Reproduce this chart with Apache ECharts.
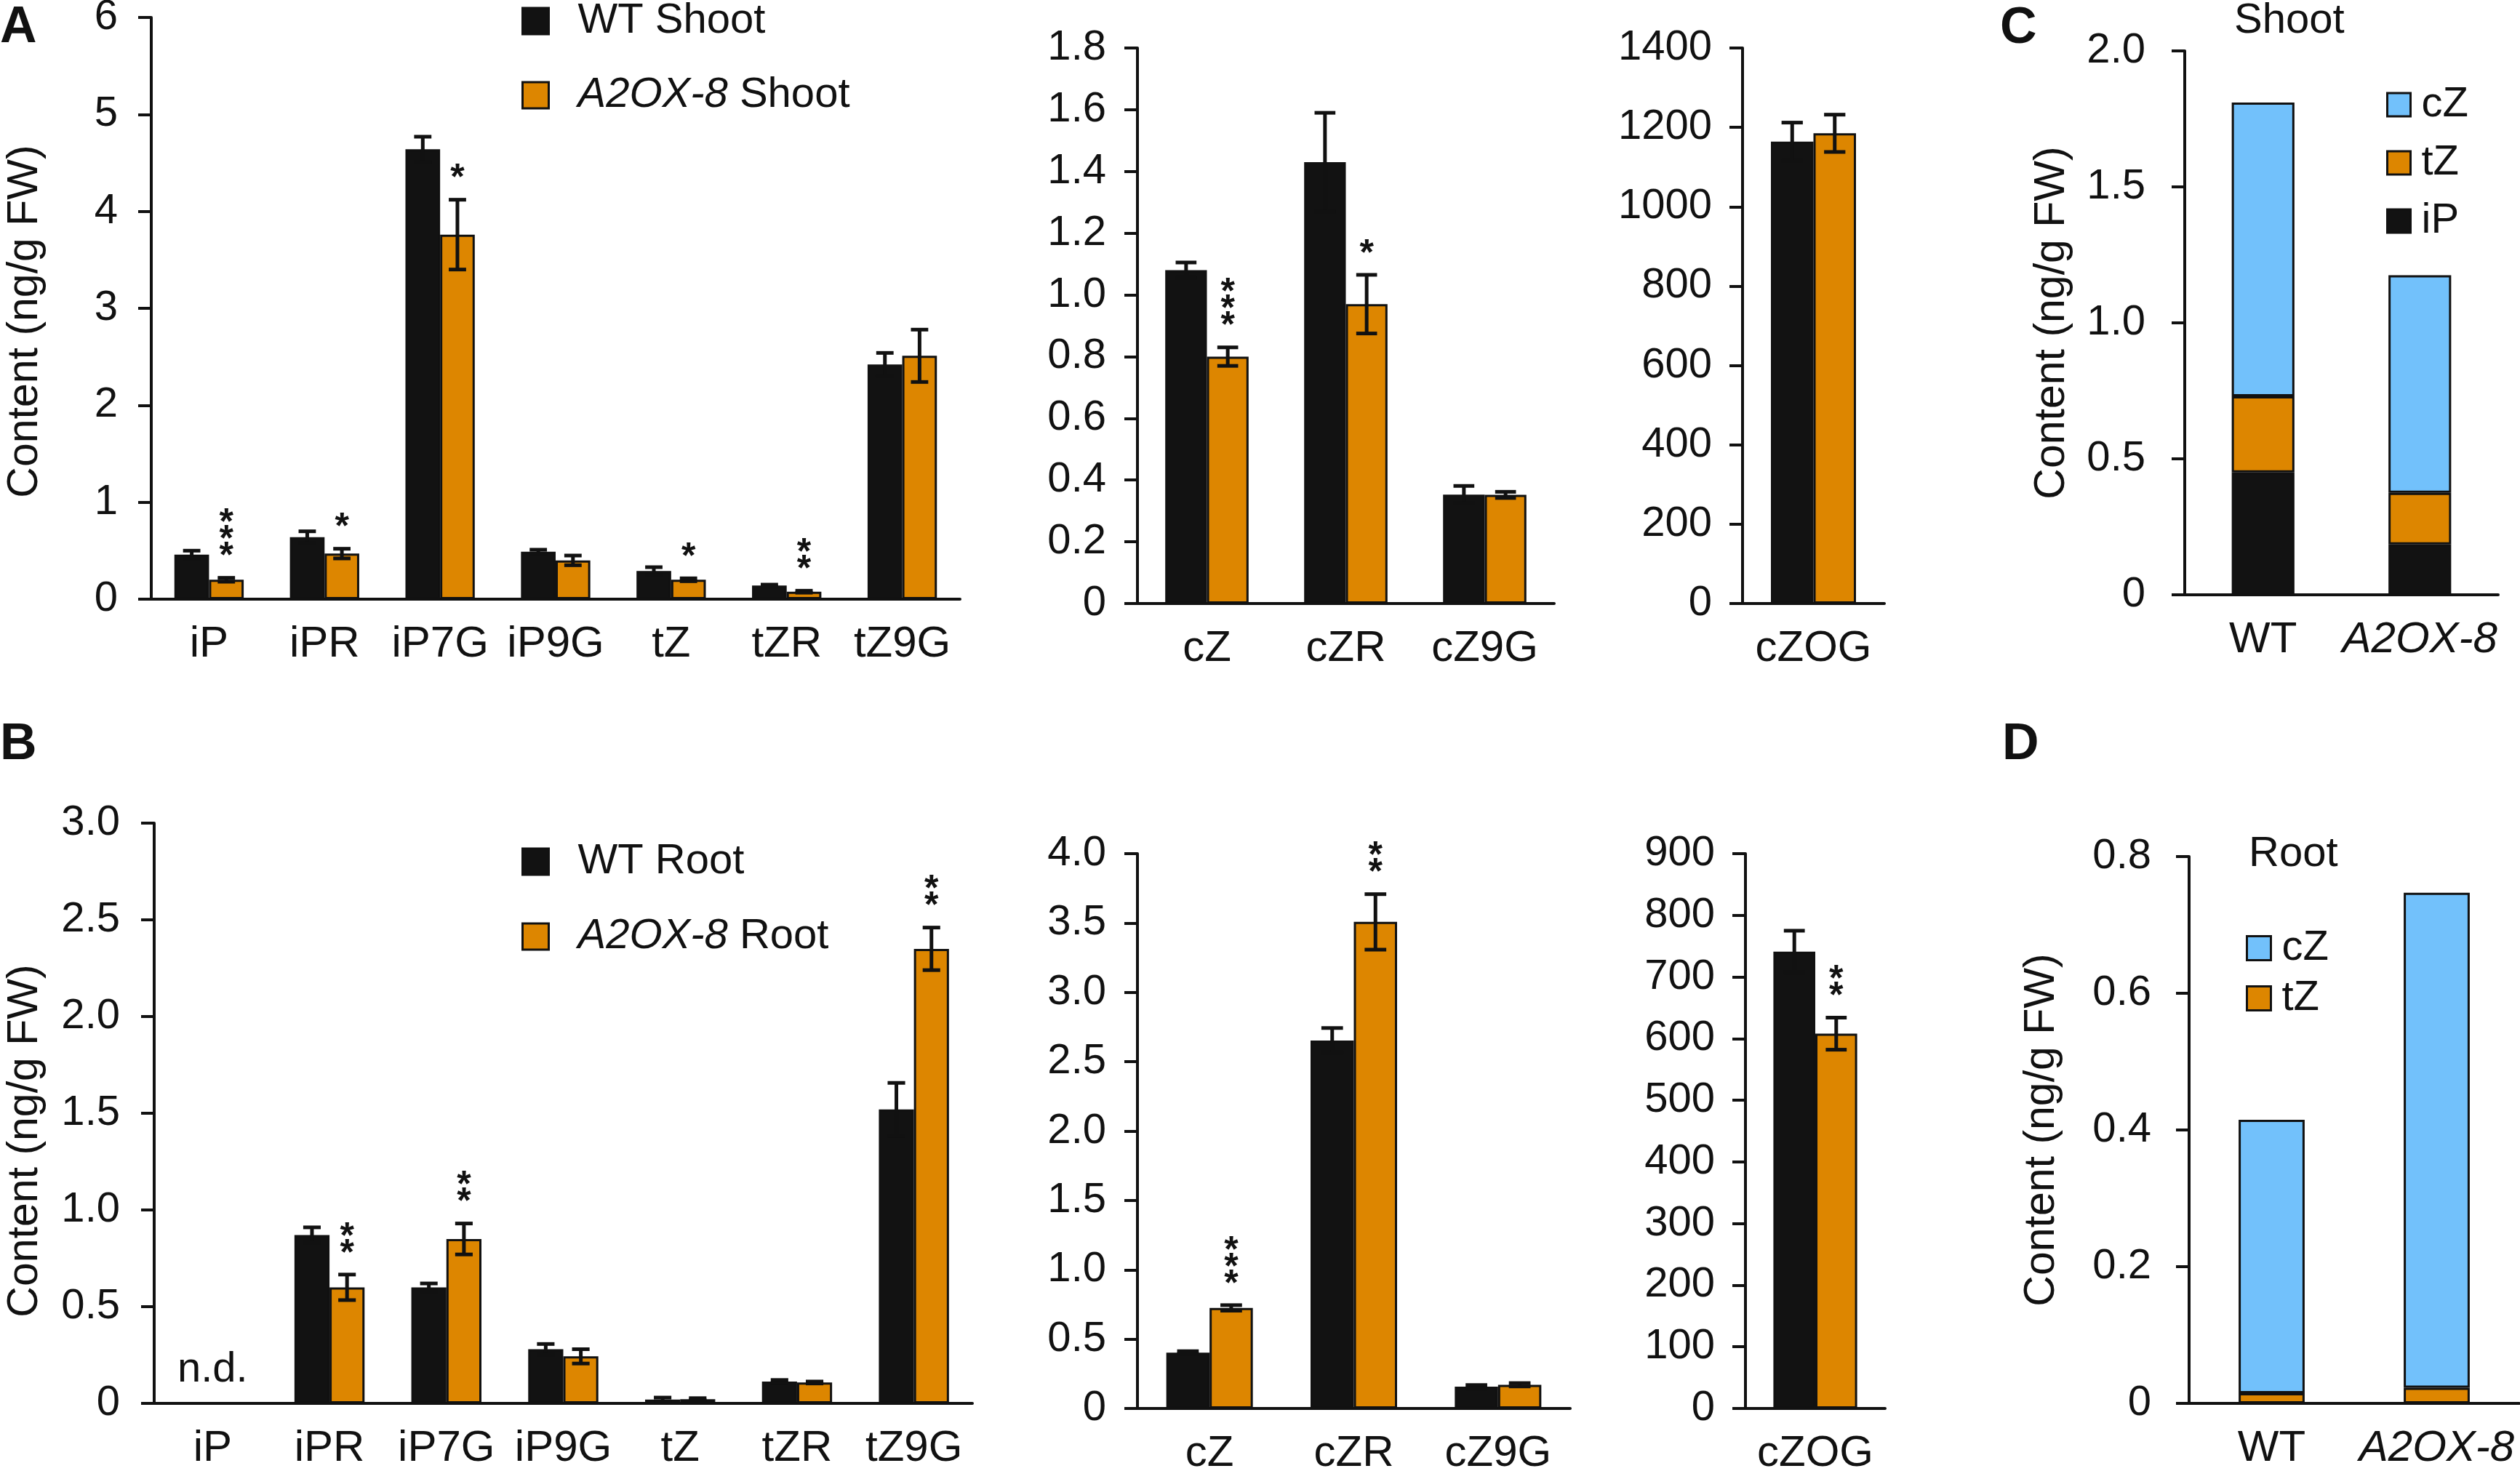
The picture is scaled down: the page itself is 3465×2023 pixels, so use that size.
<!DOCTYPE html>
<html>
<head>
<meta charset="utf-8">
<title>Cytokinin content</title>
<script src="https://cdn.jsdelivr.net/npm/echarts@6.0.0/dist/echarts.min.js"></script>
<style>
  html, body { margin: 0; padding: 0; background: #fff; }
  #chart { width: 3465px; height: 2023px; }
</style>
</head>
<body>
<div id="chart"></div>
<script>
// categories
const mainCats = ['iP', 'iPR', 'iP7G', 'iP9G', 'tZ', 'tZR', 'tZ9G']
const czCats = ['cZ', 'cZR', 'cZ9G']
const czogCats = ['cZOG']
const lineCats = ['WT', 'A2OX-8']

// A: shoot
const shootWT = [0.46, 0.64, 4.64, 0.49, 0.29, 0.14, 2.42]
const shootWTErr = [0.04, 0.06, 0.13, 0.02, 0.04, 0.01, 0.12]
const shootOX = [0.20, 0.47, 3.76, 0.40, 0.20, 0.077, 2.51]
const shootOXErr = [0.02, 0.05, 0.36, 0.05, 0.015, 0.01, 0.27]
const shootSig = ['***', '*', '*', '', '*', '**', '']

const shootCzWT = [1.08, 1.43, 0.353]
const shootCzWTErr = [0.025, 0.16, 0.028]
const shootCzOX = [0.80, 0.97, 0.352]
const shootCzOXErr = [0.03, 0.095, 0.01]
const shootCzSig = ['***', '*', '']

const shootCzogWT = [1164]
const shootCzogWTErr = [48]
const shootCzogOX = [1185]
const shootCzogOXErr = [47]
const shootCzogSig = ['']

// B: root
const rootWT = [null, 0.87, 0.60, 0.28, 0.02, 0.113, 1.52]
const rootWTErr = [null, 0.04, 0.02, 0.027, 0.01, 0.008, 0.137]
const rootOX = [null, 0.60, 0.85, 0.243, 0.022, 0.108, 2.35]
const rootOXErr = [null, 0.066, 0.08, 0.037, 0.005, 0.005, 0.11]
const rootSig = ['', '**', '**', '', '', '', '**']
const rootNote = ['n.d.', '', '', '', '', '', '']

const rootCzWT = [0.403, 2.653, 0.157]
const rootCzWTErr = [0.01, 0.09, 0.012]
const rootCzOX = [0.725, 3.508, 0.171]
const rootCzOXErr = [0.02, 0.2, 0.012]
const rootCzSig = ['***', '**', '']

const rootCzogWT = [741]
const rootCzogWTErr = [34]
const rootCzogOX = [608]
const rootCzogOXErr = [26]
const rootCzogSig = ['**']

// C / D: stacked totals
const shootStackIP = [0.45, 0.185]
const shootStackTZ = [0.28, 0.19]
const shootStackCZ = [1.08, 0.80]
const rootStackTZ = [0.015, 0.023]
const rootStackCZ = [0.40, 0.724]

// tick labels
const shootTicks = ['0', '1', '2', '3', '4', '5', '6']
const shootCzTicks = ['0', '0.2', '0.4', '0.6', '0.8', '1.0', '1.2', '1.4', '1.6', '1.8']
const shootCzogTicks = ['0', '200', '400', '600', '800', '1000', '1200', '1400']
const rootTicks = ['0', '0.5', '1.0', '1.5', '2.0', '2.5', '3.0']
const rootCzTicks = ['0', '0.5', '1.0', '1.5', '2.0', '2.5', '3.0', '3.5', '4.0']
const rootCzogTicks = ['0', '100', '200', '300', '400', '500', '600', '700', '800', '900']
const shootStackTicks = ['0', '0.5', '1.0', '1.5', '2.0']
const rootStackTicks = ['0', '0.2', '0.4', '0.6', '0.8']

const ink = '#111111'
const black = '#121212'
const orange = '#DD8600'
const blue = '#72C1FB'
const font = "'Liberation Sans', Arial, sans-serif"
const yTitle = 'Content (ng/g FW)'

const chart = echarts.init(document.getElementById('chart'), null, { width: 3465, height: 2023 })

// legend / axis names with the italic line name
function richName(name) {
  if (name.indexOf('A2OX-8') === 0) {
    return '{s|}{i|A2OX-8}{n|' + name.slice(6) + '}'
  }
  return '{s|}{n|' + name + '}'
}
function richStyle(space, size) {
  return {
    s: { width: space },
    n: { fontSize: size, color: ink, fontFamily: font },
    i: { fontSize: size, color: ink, fontFamily: font, fontStyle: 'italic' }
  }
}

function grid(left, top, width, height) {
  return { left: left, top: top, width: width, height: height, containLabel: false, outerBoundsMode: 'none' }
}

function catAxis(idx, data) {
  return {
    type: 'category',
    gridIndex: idx,
    data: data,
    axisLine: { lineStyle: { color: ink, width: 4 } },
    axisTick: { length: 17, interval: 0, lineStyle: { color: ink, width: 4 } },
    axisLabel: {
      interval: 0,
      margin: 32,
      formatter: v => v === 'A2OX-8' ? '{i|A2OX-8}' : '{n|' + v + '}',
      rich: richStyle(0, 60)
    }
  }
}

function valueAxis(idx, max, interval, ticks, margin, nameGap, shift) {
  const axis = {
    type: 'value',
    gridIndex: idx,
    min: 0,
    max: max,
    interval: interval,
    axisLine: { show: true, lineStyle: { color: ink, width: 4 } },
    axisTick: { show: true, length: 18, lineStyle: { color: ink, width: 4 } },
    splitLine: { show: false },
    axisLabel: {
      fontSize: 58,
      color: ink,
      fontFamily: font,
      margin: margin,
      formatter: v => ticks[Math.round(v / interval)]
    }
  }
  if (nameGap) {
    axis.name = yTitle
    axis.nameLocation = 'middle'
    axis.nameRotate = 90
    axis.nameGap = nameGap
    axis.nameTextStyle = { fontSize: 59, color: ink, fontFamily: font, padding: [0, shift || 0, 0, 0] }
  }
  return axis
}

function bar(idx, name, data, color, width, stack) {
  return {
    type: 'bar',
    name: name,
    xAxisIndex: idx,
    yAxisIndex: idx,
    data: data,
    stack: stack,
    barWidth: width,
    barGap: '0%',
    silent: true,
    itemStyle: { color: color, borderColor: ink, borderWidth: 3 }
  }
}

// 误差线 + 显著性星号
function errSeries(idx, vals, errs, side, sig, note) {
  return {
    type: 'custom',
    xAxisIndex: idx,
    yAxisIndex: idx,
    z: 10,
    silent: true,
    data: vals.map((v, i) => [i, v, errs[i]]),
    renderItem: function (params, api) {
      const i = params.dataIndex
      const band = api.size([1, 0])[0]
      const base = api.coord([i, 0])
      const x = base[0] + side * band * 0.15
      const v = api.value(1)
      const e = api.value(2)
      const children = []
      if (note && note[i]) {
        children.push({
          type: 'text',
          x: base[0],
          y: base[1] - 46,
          style: { text: note[i], fill: ink, font: '58px ' + font, align: 'center', verticalAlign: 'middle' }
        })
      }
      if (!isNaN(v) && !isNaN(e) && v !== null) {
        const hi = api.coord([i, v + e])[1]
        const lo = api.coord([i, v - e])[1]
        const cap = band * 0.075
        const ls = { stroke: ink, lineWidth: 5 }
        children.push({ type: 'line', shape: { x1: x, y1: hi, x2: x, y2: lo }, style: ls })
        children.push({ type: 'line', shape: { x1: x - cap, y1: hi, x2: x + cap, y2: hi }, style: ls })
        children.push({ type: 'line', shape: { x1: x - cap, y1: lo, x2: x + cap, y2: lo }, style: ls })
        if (sig && sig[i]) {
          for (let k = 0; k < sig[i].length; k++) {
            children.push({
              type: 'text',
              x: x,
              y: hi - 28 - k * 23,
              style: { text: '*', fill: ink, font: 'bold 50px ' + font, align: 'center', verticalAlign: 'middle' }
            })
          }
        }
      }
      return { type: 'group', children: children }
    }
  }
}

function groupPanel(idx, names, wt, wtErr, ox, oxErr, sig, note) {
  return [
    bar(idx, names[0], wt, black, '30%'),
    bar(idx, names[1], ox, orange, '30%'),
    errSeries(idx, wt, wtErr, -1, null, note),
    errSeries(idx, ox, oxErr, 1, sig, null)
  ]
}

const shootNames = ['WT Shoot', 'A2OX-8 Shoot']
const rootNames = ['WT Root', 'A2OX-8 Root']

function legend(data, left, top, size, gap, space) {
  return {
    data: data,
    left: left,
    top: top,
    orient: 'vertical',
    icon: 'rect',
    itemWidth: size,
    itemHeight: size,
    itemGap: gap,
    selectedMode: false,
    padding: 0,
    itemStyle: { borderColor: ink, borderWidth: 3 },
    formatter: richName,
    textStyle: { lineHeight: 50, rich: richStyle(space, 58) }
  }
}

function letter(text, left, top) {
  return { text: text, left: left, top: top, padding: 0, textStyle: { fontSize: 70, fontWeight: 'bold', color: ink, fontFamily: font } }
}
function caption(text, left, top) {
  return { text: text, left: left, top: top, padding: 0, textStyle: { fontSize: 58, fontWeight: 'normal', color: ink, fontFamily: font } }
}

const option = {
  backgroundColor: '#ffffff',
  animation: false,
  textStyle: { fontFamily: font },
  title: [
    letter('A', 0, 4),
    letter('B', 0, 990),
    letter('C', 2750, 5),
    letter('D', 2753, 990),
    caption('Shoot', 3072, 0),
    caption('Root', 3092, 1146)
  ],
  legend: [
    legend(shootNames, 717, 0, 36, 44, 35),
    legend(rootNames, 717, 1156, 36, 45, 35),
    legend(['cZ', 'tZ', 'iP'], 3281, 115, 32, 22, 10),
    legend(['cZ', 'tZ'], 3088, 1275, 33, 11, 10)
  ],
  grid: [
    grid(208, 24, 1112, 800),
    grid(1564, 66, 573, 764),
    grid(2396, 66, 195, 764),
    grid(3004, 70, 431, 748),
    grid(212, 1132, 1125, 798),
    grid(1564, 1174, 595, 763),
    grid(2400, 1174, 192, 763),
    grid(3010, 1178, 454, 752)
  ],
  xAxis: [
    catAxis(0, mainCats),
    catAxis(1, czCats),
    catAxis(2, czogCats),
    catAxis(3, lineCats),
    catAxis(4, mainCats),
    catAxis(5, czCats),
    catAxis(6, czogCats),
    catAxis(7, lineCats)
  ],
  yAxis: [
    valueAxis(0, 6, 1, shootTicks, 46, 144, 36),
    valueAxis(1, 1.8, 0.2, shootCzTicks, 43),
    valueAxis(2, 1400, 200, shootCzogTicks, 42),
    valueAxis(3, 2, 0.5, shootStackTicks, 54, 153),
    valueAxis(4, 3, 0.5, rootTicks, 47, 148, 76),
    valueAxis(5, 4, 0.5, rootCzTicks, 43),
    valueAxis(6, 900, 100, rootCzogTicks, 42),
    valueAxis(7, 0.8, 0.2, rootStackTicks, 52, 173)
  ],
  series: [].concat(
    groupPanel(0, shootNames, shootWT, shootWTErr, shootOX, shootOXErr, shootSig),
    groupPanel(1, shootNames, shootCzWT, shootCzWTErr, shootCzOX, shootCzOXErr, shootCzSig),
    groupPanel(2, shootNames, shootCzogWT, shootCzogWTErr, shootCzogOX, shootCzogOXErr, shootCzogSig),
    [
      bar(3, 'iP', shootStackIP, black, '40%', 'shoot'),
      bar(3, 'tZ', shootStackTZ, orange, '40%', 'shoot'),
      bar(3, 'cZ', shootStackCZ, blue, '40%', 'shoot')
    ],
    groupPanel(4, rootNames, rootWT, rootWTErr, rootOX, rootOXErr, rootSig, rootNote),
    groupPanel(5, rootNames, rootCzWT, rootCzWTErr, rootCzOX, rootCzOXErr, rootCzSig),
    groupPanel(6, rootNames, rootCzogWT, rootCzogWTErr, rootCzogOX, rootCzogOXErr, rootCzogSig),
    [
      bar(7, 'tZ', rootStackTZ, orange, '40%', 'root'),
      bar(7, 'cZ', rootStackCZ, blue, '40%', 'root')
    ]
  )
}

chart.setOption(option)
</script>
</body>
</html>
